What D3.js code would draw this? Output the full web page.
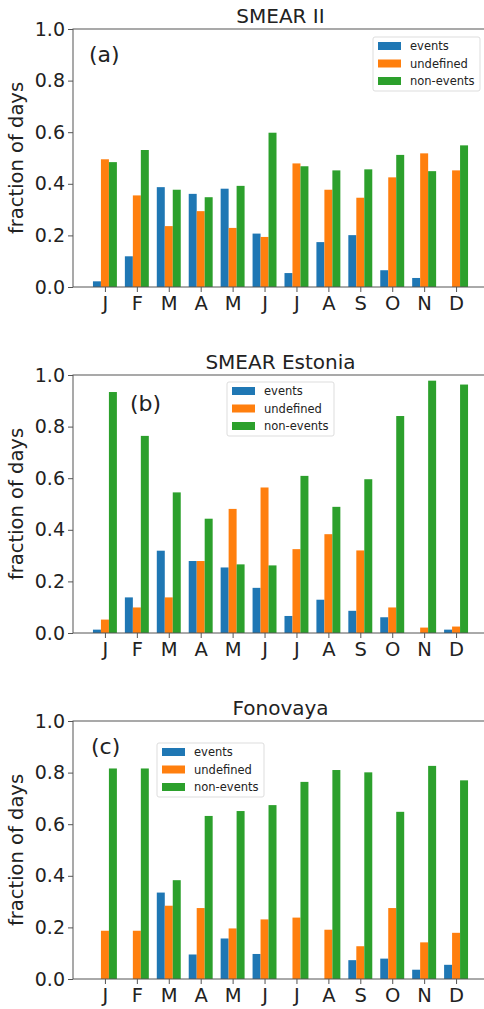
<!DOCTYPE html>
<html>
<head>
<meta charset="utf-8">
<script src="https://cdn.jsdelivr.net/npm/d3@7"></script>
<style>
  body { margin: 0; background: #fff; }
  svg { display: block; font-family: "DejaVu Sans", sans-serif; }
</style>
</head>
<body>
<script>
// month labels and series names
var months = ["J", "F", "M", "A", "M", "J", "J", "A", "S", "O", "N", "D"];
var seriesNames = ["events", "undefined", "non-events"];
var seriesColors = ["#1f77b4", "#ff7f0e", "#2ca02c"];
var yTicks = [0, 0.2, 0.4, 0.6, 0.8, 1.0];

// SMEAR II (a)
var smear2Events    = [0.022, 0.119, 0.387, 0.361, 0.381, 0.207, 0.054, 0.174, 0.201, 0.065, 0.035, 0];
var smear2Undefined = [0.495, 0.355, 0.236, 0.294, 0.229, 0.194, 0.479, 0.377, 0.346, 0.425, 0.518, 0.452];
var smear2NonEvents = [0.484, 0.531, 0.377, 0.348, 0.392, 0.598, 0.468, 0.452, 0.456, 0.512, 0.449, 0.549];

// SMEAR Estonia (b)
var estoniaEvents    = [0.013, 0.138, 0.319, 0.279, 0.254, 0.175, 0.066, 0.129, 0.086, 0.061, 0, 0.013];
var estoniaUndefined = [0.052, 0.099, 0.138, 0.279, 0.481, 0.564, 0.325, 0.383, 0.320, 0.099, 0.021, 0.025];
var estoniaNonEvents = [0.934, 0.764, 0.545, 0.443, 0.266, 0.262, 0.609, 0.489, 0.596, 0.841, 0.978, 0.963];

// Fonovaya (c)
var fonovayaEvents    = [0, 0, 0.335, 0.095, 0.157, 0.097, 0, 0, 0.073, 0.079, 0.036, 0.055];
var fonovayaUndefined = [0.187, 0.187, 0.284, 0.275, 0.196, 0.231, 0.238, 0.191, 0.127, 0.275, 0.142, 0.179];
var fonovayaNonEvents = [0.816, 0.816, 0.383, 0.632, 0.651, 0.674, 0.764, 0.810, 0.801, 0.648, 0.826, 0.770];

var panels = [
  {title: "SMEAR II", tag: "(a)", series: [smear2Events, smear2Undefined, smear2NonEvents],
   top: 29, tagX: 89, tagY: 62, legX: 373, legY: 37},
  {title: "SMEAR Estonia", tag: "(b)", series: [estoniaEvents, estoniaUndefined, estoniaNonEvents],
   top: 375, tagX: 130, tagY: 411, legX: 227, legY: 382},
  {title: "Fonovaya", tag: "(c)", series: [fonovayaEvents, fonovayaUndefined, fonovayaNonEvents],
   top: 721, tagX: 91, tagY: 754, legX: 157, legY: 743}
];

var W = 484, H = 1009;
var plotH = 258;
var left = 73, right = 488;

var svg = d3.select("body").append("svg")
  .attr("width", W)
  .attr("height", H);

var x = d3.scaleLinear().domain([0, 13]).range([left, right]);
var barW = x(0.25) - x(0);

panels.forEach(function(p){
  var y = d3.scaleLinear().domain([0, 1]).range([p.top + plotH, p.top]);
  var g = svg.append("g");

  // bars
  p.series.forEach(function(vals, s){
    g.selectAll(null)
      .data(vals)
      .enter()
      .append("rect")
      .attr("x", function(d, i){ return x(i + 1 + (s - 1) * 0.25) - barW / 2; })
      .attr("y", function(d){ return y(d); })
      .attr("width", barW)
      .attr("height", function(d){ return y(0) - y(d); })
      .attr("fill", seriesColors[s]);
  });

  // frame
  g.append("rect")
    .attr("x", left)
    .attr("y", p.top)
    .attr("width", right - left)
    .attr("height", plotH)
    .attr("fill", "none")
    .attr("stroke", "#555")
    .attr("stroke-width", 1);

  // y axis
  var yAxis = d3.axisLeft(y).tickValues(yTicks).tickFormat(d3.format(".1f")).tickSizeOuter(0).tickSize(5).tickPadding(3);
  var ya = g.append("g").attr("transform", "translate(" + left + ",0)").call(yAxis);
  ya.select(".domain").remove();
  ya.selectAll("line").attr("stroke", "#555");
  ya.selectAll("text").attr("font-size", 19).attr("fill", "#222").attr("font-family", "DejaVu Sans");

  // x axis
  var xAxis = d3.axisBottom(x).tickValues(d3.range(1, 13)).tickFormat(function(d){ return months[d - 1]; })
    .tickSizeOuter(0).tickSize(5).tickPadding(4);
  var xa = g.append("g").attr("transform", "translate(0," + (p.top + plotH) + ")").call(xAxis);
  xa.select(".domain").remove();
  xa.selectAll("line").attr("stroke", "#555");
  xa.selectAll("text").attr("font-size", 19.5).attr("fill", "#222").attr("font-family", "DejaVu Sans");

  // y label
  g.append("text")
    .attr("transform", "translate(23," + (p.top + plotH / 2) + ") rotate(-90)")
    .attr("text-anchor", "middle")
    .attr("font-size", 19.5)
    .attr("fill", "#222")
    .text("fraction of days");

  // title
  g.append("text")
    .attr("x", (left + right) / 2)
    .attr("y", p.top - 6)
    .attr("text-anchor", "middle")
    .attr("font-size", 20)
    .attr("fill", "#222")
    .text(p.title);

  // panel tag
  g.append("text")
    .attr("x", p.tagX)
    .attr("y", p.tagY)
    .attr("font-size", 22)
    .attr("fill", "#222")
    .text(p.tag);

  // legend
  var leg = g.append("g").attr("transform", "translate(" + p.legX + "," + p.legY + ")");
  leg.append("rect")
    .attr("width", 107)
    .attr("height", 54)
    .attr("rx", 2)
    .attr("fill", "#fff")
    .attr("fill-opacity", 0.8)
    .attr("stroke", "#ddd");
  seriesNames.forEach(function(name, s){
    leg.append("rect")
      .attr("x", 5)
      .attr("y", 5 + s * 17.5)
      .attr("width", 23)
      .attr("height", 8)
      .attr("fill", seriesColors[s]);
    leg.append("text")
      .attr("x", 37)
      .attr("y", 13 + s * 17.5)
      .attr("font-size", 11.5)
      .attr("fill", "#222")
      .text(name);
  });
});
</script>
</body>
</html>
